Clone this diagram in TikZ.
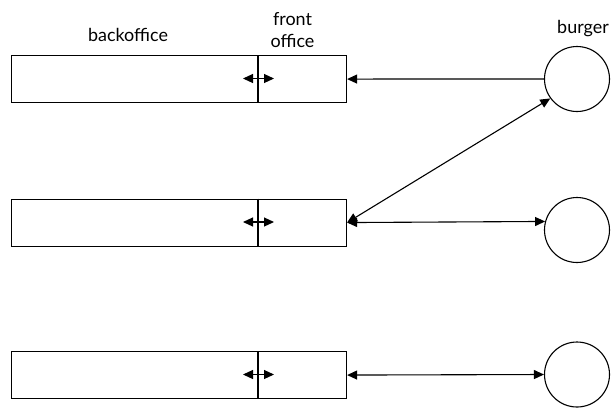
\documentclass[tikz,border=0pt]{standalone}
\usepackage{fontspec}
\setmainfont{Lato}
\usetikzlibrary{arrows.meta}
\begin{document}
\begin{tikzpicture}[x=1bp,y=-1bp,
  line width=1.1bp,
  tip/.tip={Triangle[length=10bp,width=9bp]},
  box/.style={draw, minimum width=335bp, minimum height=47bp, inner sep=0pt, anchor=north west},
  burgernode/.style={draw, circle, minimum size=65bp, inner sep=0pt},
  lbl/.style={font=\fontsize{18}{22}\selectfont, inner sep=0pt, align=center},
  link/.style={-{tip}},
  twoway/.style={{tip}-{tip}}]
  \useasboundingbox (0,0) rectangle (611,407);

  % three office rows: back part and front part split by a wall
  \foreach \n/\y in {1/55, 2/198.5, 3/351}{
    \node[box] (b\n) at (11,\y) {};
    \coordinate (wt\n) at (258,\y);
    \coordinate (wb\n) at ([yshift=-47bp]wt\n);
    \draw (wt\n) -- (wb\n);
    \coordinate (wl\n) at ([xshift=-15bp, yshift=-23.5bp]wt\n);
    \coordinate (wr\n) at ([xshift=16bp, yshift=-23.5bp]wt\n);
    \draw[twoway] (wl\n) -- (wr\n);
  }

  % burgers
  \node[burgernode] (c1) at (577,79) {};
  \node[burgernode] (c2) at (577,230) {};
  \node[burgernode] (c3) at (577,374.5) {};

  % labels
  \node[lbl, anchor=base] (back) at (128,41.5) {backoffice};
  \node[lbl, anchor=base] (front) at (292.5,47.3) {front\\office};
  \node[lbl, anchor=base] (burger) at (583,33) {burger};

  % connectors
  \draw[link] (c1.west) -- (b1.east);
  \draw[twoway] (b2.east) -- (c1.216);
  \draw[twoway] (b2.east) -- (c2.165.5);
  \draw[twoway] (b3.east) -- (c3.west);
\end{tikzpicture}
\end{document}
